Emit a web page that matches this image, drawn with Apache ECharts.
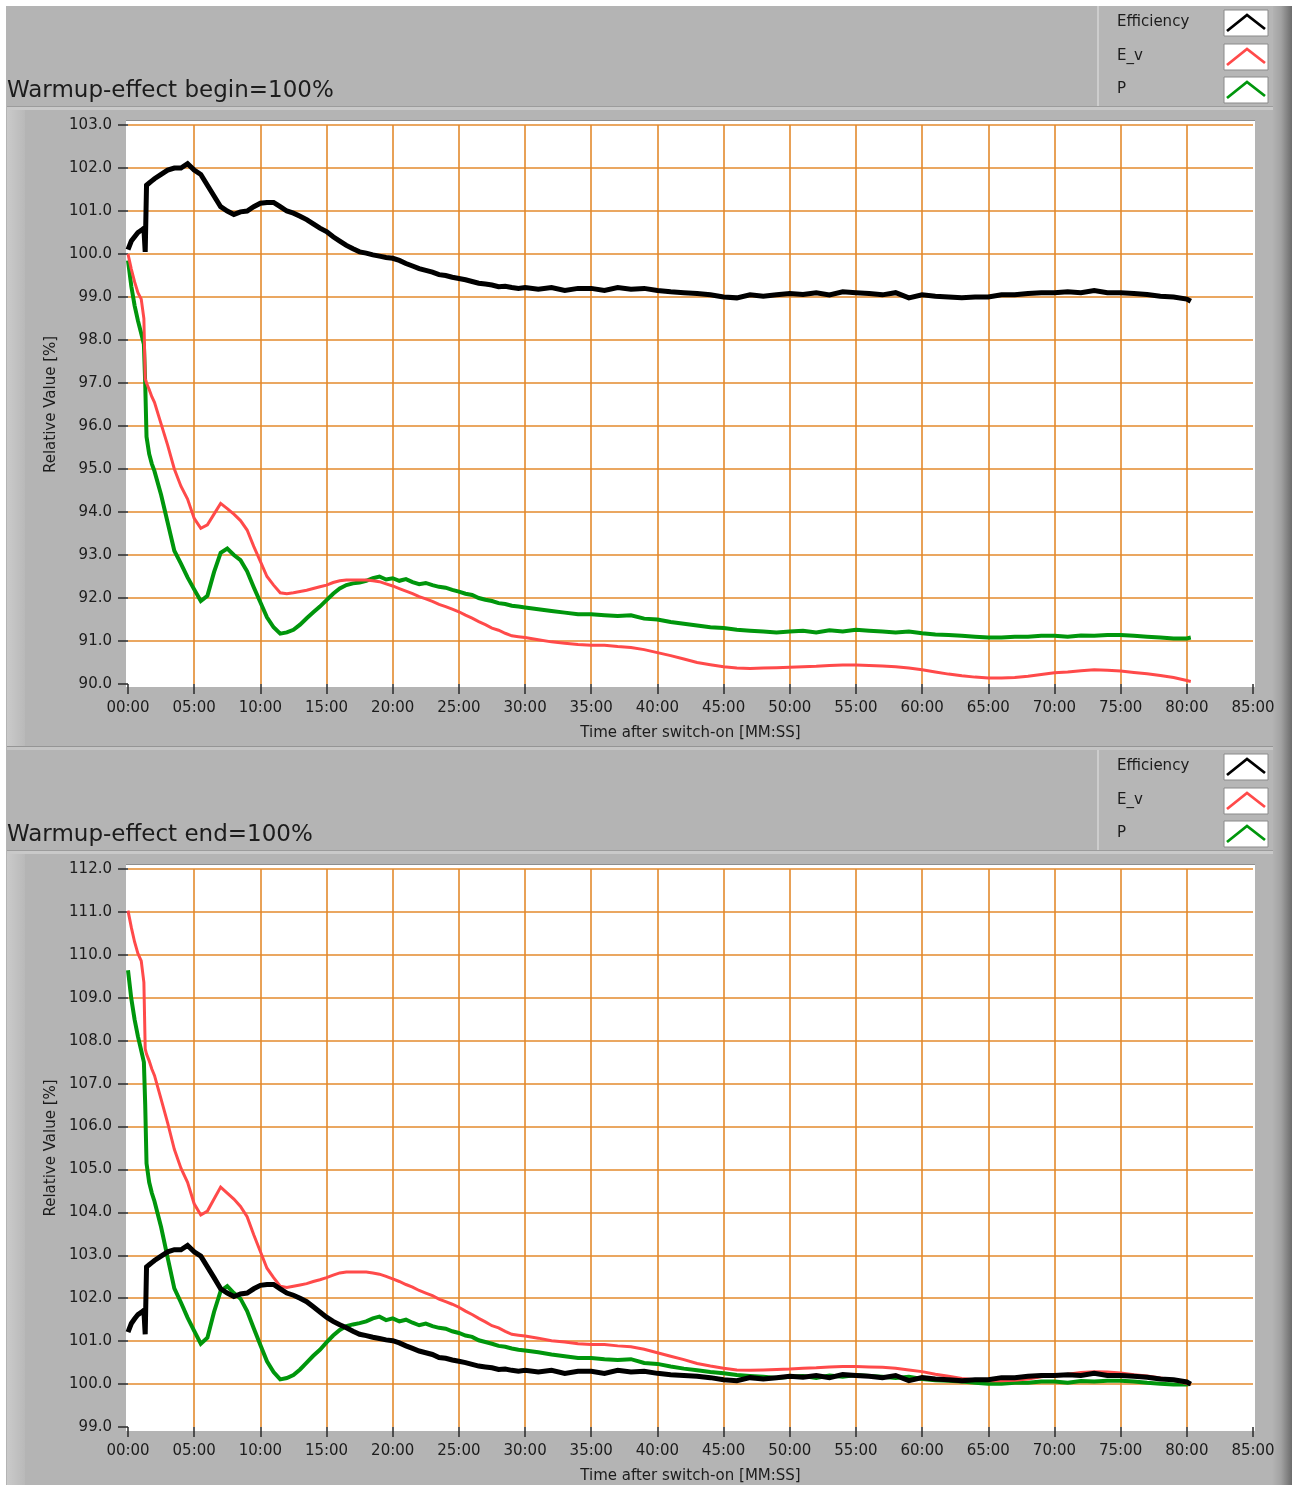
<!DOCTYPE html>
<html>
<head>
<meta charset="utf-8">
<script src="https://cdn.jsdelivr.net/npm/echarts@6/dist/echarts.min.js"></script>
<style>
html,body{margin:0;padding:0;background:#b4b4b4;}
#chart{width:1292px;height:1485px;}
</style>
</head>
<body>
<div id="chart"></div>
<script>
// ---------- DATA ----------
const seriesNames = ['Efficiency', 'E_v', 'P'];
const titles = ['Warmup-effect begin=100%', 'Warmup-effect end=100%'];
const xAxisName = 'Time after switch-on [MM:SS]';
const yAxisName = 'Relative Value [%]';

// time after switch-on, minutes
const times = [0,0.25,0.5,0.75,1,1.2,1.3,1.4,1.6,1.8,2,
  2.5,3,3.5,4,4.5,5,5.5,6,6.5,7,
  7.5,8,8.5,9,9.5,10,10.5,11,11.5,12,
  12.5,13,13.5,14,14.5,15,15.5,16,16.5,17,
  17.5,18,18.5,19,19.5,20,20.5,21,21.5,22,
  22.5,23,23.5,24,24.5,25,25.5,26,26.5,27,
  27.5,28,28.5,29,29.5,30,
  31,32,33,34,35,36,37,38,39,40,
  41,42,43,44,45,46,47,48,49,50,
  51,52,53,54,55,56,57,58,59,60,
  61,62,63,64,65,66,67,68,69,70,
  71,72,73,74,75,76,77,78,79,80,
  80.3];

// Top panel (begin = 100%)
const topEfficiency = [100.1,100.3,100.4,100.5,100.55,100.6,100.05,101.6,101.65,101.7,101.75,
  101.85,101.95,102.0,102.0,102.1,101.95,101.85,101.6,101.35,101.1,
  101.0,100.92,100.98,101.0,101.1,101.18,101.2,101.2,101.1,101.0,
  100.95,100.88,100.8,100.7,100.6,100.52,100.4,100.3,100.2,100.12,
  100.05,100.02,99.98,99.95,99.92,99.9,99.85,99.78,99.72,99.66,
  99.62,99.58,99.52,99.5,99.46,99.43,99.4,99.36,99.32,99.3,
  99.28,99.24,99.25,99.22,99.2,99.22,
  99.18,99.22,99.15,99.2,99.2,99.15,99.22,99.18,99.2,99.15,
  99.12,99.1,99.08,99.05,99.0,98.98,99.05,99.02,99.05,99.08,
  99.06,99.1,99.05,99.12,99.1,99.08,99.05,99.1,98.98,99.05,
  99.02,99.0,98.98,99.0,99.0,99.05,99.05,99.08,99.1,99.1,
  99.12,99.1,99.15,99.1,99.1,99.08,99.06,99.02,99.0,98.95,
  98.9];
const topEv = [100.0,99.65,99.35,99.1,98.95,98.5,97.1,97.0,96.85,96.68,96.55,
  96.05,95.55,95.0,94.6,94.3,93.85,93.62,93.7,93.95,94.2,
  94.08,93.95,93.8,93.58,93.2,92.85,92.5,92.3,92.12,92.1,
  92.12,92.15,92.18,92.22,92.26,92.3,92.36,92.4,92.42,92.42,
  92.42,92.42,92.4,92.38,92.33,92.28,92.22,92.16,92.1,92.03,
  91.98,91.92,91.85,91.8,91.74,91.68,91.6,91.53,91.45,91.38,
  91.3,91.25,91.18,91.12,91.1,91.08,
  91.03,90.98,90.95,90.92,90.9,90.9,90.87,90.85,90.8,90.73,
  90.66,90.58,90.5,90.45,90.4,90.37,90.36,90.37,90.38,90.39,
  90.4,90.41,90.43,90.44,90.44,90.43,90.42,90.4,90.37,90.33,
  90.28,90.23,90.19,90.16,90.14,90.14,90.15,90.18,90.22,90.26,
  90.28,90.31,90.33,90.32,90.3,90.27,90.24,90.2,90.15,90.08,
  90.06];
const topP = [99.85,99.25,98.8,98.45,98.15,97.9,97.0,95.75,95.35,95.12,94.95,
  94.4,93.75,93.1,92.8,92.48,92.2,91.93,92.05,92.6,93.05,
  93.15,93.0,92.88,92.62,92.25,91.9,91.55,91.32,91.17,91.2,
  91.26,91.38,91.53,91.67,91.8,91.95,92.1,92.22,92.3,92.34,
  92.36,92.4,92.46,92.5,92.43,92.46,92.4,92.44,92.37,92.32,
  92.35,92.3,92.26,92.24,92.19,92.15,92.1,92.07,92.0,91.96,
  91.93,91.88,91.86,91.82,91.8,91.78,
  91.74,91.7,91.66,91.62,91.62,91.6,91.58,91.6,91.52,91.5,
  91.44,91.4,91.36,91.32,91.3,91.26,91.24,91.22,91.2,91.22,
  91.24,91.2,91.25,91.22,91.26,91.24,91.22,91.2,91.22,91.18,
  91.15,91.14,91.12,91.1,91.08,91.08,91.1,91.1,91.12,91.12,
  91.1,91.13,91.12,91.14,91.14,91.12,91.1,91.08,91.06,91.06,
  91.08];

// Bottom panel (end = 100%)
const botEfficiency = [101.21,101.41,101.52,101.62,101.67,101.72,101.16,102.73,102.78,102.83,102.88,
  102.98,103.08,103.13,103.13,103.23,103.08,102.98,102.73,102.48,102.22,
  102.12,102.04,102.1,102.12,102.22,102.3,102.32,102.32,102.22,102.12,
  102.07,102.0,101.92,101.8,101.68,101.56,101.46,101.38,101.31,101.23,
  101.16,101.13,101.09,101.06,101.03,101.01,100.96,100.89,100.83,100.77,
  100.73,100.69,100.62,100.6,100.56,100.53,100.5,100.46,100.42,100.4,
  100.38,100.34,100.35,100.32,100.3,100.32,
  100.28,100.32,100.25,100.3,100.3,100.25,100.32,100.28,100.3,100.25,
  100.22,100.2,100.18,100.15,100.1,100.08,100.15,100.12,100.15,100.18,
  100.16,100.2,100.15,100.22,100.2,100.18,100.15,100.2,100.08,100.15,
  100.12,100.1,100.08,100.1,100.1,100.15,100.15,100.18,100.2,100.2,
  100.22,100.2,100.25,100.2,100.2,100.18,100.16,100.12,100.1,100.05,
  100.0];
const botEv = [111.03,110.64,110.3,110.03,109.86,109.36,107.81,107.69,107.53,107.34,107.19,
  106.64,106.08,105.47,105.03,104.7,104.2,103.94,104.03,104.31,104.59,
  104.45,104.31,104.14,103.9,103.48,103.09,102.7,102.48,102.28,102.25,
  102.28,102.31,102.34,102.39,102.43,102.48,102.54,102.59,102.61,102.61,
  102.61,102.61,102.59,102.56,102.51,102.45,102.39,102.32,102.26,102.18,
  102.12,102.06,101.98,101.92,101.86,101.79,101.7,101.62,101.53,101.45,
  101.36,101.31,101.23,101.16,101.14,101.12,
  101.07,101.01,100.98,100.94,100.92,100.92,100.89,100.87,100.81,100.73,
  100.65,100.57,100.48,100.42,100.37,100.33,100.32,100.33,100.34,100.35,
  100.37,100.38,100.4,100.41,100.41,100.4,100.39,100.37,100.33,100.29,
  100.23,100.18,100.13,100.1,100.08,100.08,100.09,100.12,100.17,100.21,
  100.23,100.27,100.29,100.28,100.26,100.22,100.19,100.14,100.09,100.01,
  99.99];
const botP = [109.64,108.98,108.49,108.1,107.77,107.5,106.51,105.14,104.7,104.45,104.26,
  103.66,102.94,102.23,101.9,101.55,101.24,100.94,101.08,101.68,102.17,
  102.28,102.12,101.99,101.7,101.3,100.91,100.53,100.28,100.11,100.14,
  100.21,100.34,100.5,100.66,100.8,100.97,101.13,101.26,101.35,101.39,
  101.42,101.46,101.53,101.57,101.49,101.53,101.46,101.5,101.43,101.37,
  101.41,101.35,101.31,101.29,101.23,101.19,101.13,101.1,101.02,100.98,
  100.94,100.89,100.87,100.83,100.8,100.78,
  100.74,100.69,100.65,100.61,100.61,100.58,100.56,100.58,100.49,100.47,
  100.41,100.36,100.32,100.28,100.25,100.21,100.19,100.17,100.14,100.17,
  100.19,100.14,100.2,100.17,100.21,100.19,100.17,100.14,100.17,100.12,
  100.09,100.08,100.06,100.03,100.01,100.01,100.03,100.03,100.06,100.06,
  100.03,100.07,100.06,100.08,100.08,100.06,100.03,100.01,99.99,99.99,
  100.01];

// axis ranges / ticks
const xRange = {min: 0, max: 85, step: 5};
const yRangeTop = {min: 90, max: 103, step: 1};
const yRangeBot = {min: 99, max: 112, step: 1};

// ---------- STYLE ----------
const FONT = 'DejaVu Sans';
const TXT = '#1c1c1c';
const GRIDC = '#e38a2d';
const colors = {Efficiency: '#000000', E_v: '#ff4a4a', P: '#00960c'};
const widths = {Efficiency: 5, E_v: 3, P: 4};

const panelOffset = 744;
const plotLeft = 128, plotWidth = 1125, plotTop = 125, plotHeight = 559;

function pairs(vals) { return times.map((t, i) => [t, vals[i]]); }
function mmss(v) { return (v < 10 ? '0' : '') + v + ':00'; }

const chart = echarts.init(document.getElementById('chart'), null, {renderer: 'canvas'});

const grids = [0, 1].map(i => ({
  left: plotLeft, top: plotTop + i * panelOffset, width: plotWidth, height: plotHeight,
  show: false, containLabel: false
}));

const xAxes = [0, 1].map(i => ({
  type: 'value', gridIndex: i, min: xRange.min, max: xRange.max, interval: xRange.step,
  axisLine: {show: false},
  axisTick: {show: true, length: 10, lineStyle: {color: '#2a2a2a', width: 1.5}},
  axisLabel: {formatter: mmss, fontSize: 15, fontFamily: FONT, color: TXT, margin: 17, showMaxLabel: true, showMinLabel: true},
  splitLine: {show: true, showMinLine: false, showMaxLine: false, lineStyle: {color: GRIDC, width: 1.6}},
  name: xAxisName, nameLocation: 'middle', nameGap: 42,
  nameTextStyle: {fontSize: 15, fontFamily: FONT, color: TXT}
}));

const yAxes = [yRangeTop, yRangeBot].map((r, i) => ({
  type: 'value', gridIndex: i, min: r.min, max: r.max, interval: r.step,
  axisLine: {show: false},
  axisTick: {show: true, length: 10, lineStyle: {color: '#2a2a2a', width: 1.5}},
  axisLabel: {formatter: v => v.toFixed(1), fontSize: 15, fontFamily: FONT, color: TXT, margin: 16, showMaxLabel: true, showMinLabel: true},
  splitLine: {show: true, showMinLine: false, showMaxLine: true, lineStyle: {color: GRIDC, width: 1.6}},
  name: yAxisName, nameLocation: 'middle', nameGap: 63, nameRotate: 90,
  nameTextStyle: {fontSize: 15, fontFamily: FONT, color: TXT}
}));

const panelData = [
  {Efficiency: topEfficiency, E_v: topEv, P: topP},
  {Efficiency: botEfficiency, E_v: botEv, P: botP}
];
const drawOrder = ['P', 'E_v', 'Efficiency'];
const series = [];
panelData.forEach((pd, i) => {
  drawOrder.forEach((name, k) => {
    series.push({
      name: name, type: 'line', xAxisIndex: i, yAxisIndex: i,
      data: pairs(pd[name]), showSymbol: false, symbol: 'none',
      lineStyle: {color: colors[name], width: widths[name], join: 'miter'},
      itemStyle: {color: colors[name]},
      z: 3 + k, clip: true, silent: true
    });
  });
});

// ---------- DECOR (frame, titles, legend boxes) ----------
const g = [];
g.push({type: 'rect', z: -20, shape: {x: 0, y: 0, width: 1292, height: 1485}, style: {fill: '#b4b4b4'}});
g.push({type: 'rect', z: -19, shape: {x: 0, y: 0, width: 1292, height: 6}, style: {fill: '#ffffff'}});
g.push({type: 'rect', z: -19, shape: {x: 0, y: 0, width: 6, height: 1485}, style: {fill: '#ffffff'}});
g.push({type: 'rect', z: -18, shape: {x: 1272, y: 6, width: 20, height: 1479},
  style: {fill: new echarts.graphic.LinearGradient(0, 0, 1, 0, [{offset: 0, color: '#b4b4b4'}, {offset: 0.45, color: '#a2a2a2'}, {offset: 1, color: '#6c6c6c'}])}});

[0, 1].forEach(i => {
  const oy = i * panelOffset;
  g.push({type: 'rect', z: -17, shape: {x: 7, y: 106 + oy, width: 1266, height: 1}, style: {fill: '#9c9c9c'}});
  g.push({type: 'rect', z: -17, shape: {x: 7, y: 107 + oy, width: 1266, height: 3}, style: {fill: '#c9c9c9'}});
  g.push({type: 'rect', z: -17, shape: {x: 7, y: 110 + oy, width: 18, height: 636},
    style: {fill: new echarts.graphic.LinearGradient(0, 0, 1, 0, [{offset: 0, color: '#cacaca'}, {offset: 1, color: '#b9b9b9'}])}});
  g.push({type: 'rect', z: -15, shape: {x: 126, y: 121 + oy, width: 1129, height: 566}, style: {fill: '#ffffff'}});
  g.push({type: 'rect', z: -14, shape: {x: 126, y: 120 + oy, width: 1129, height: 1}, style: {fill: '#8e8e8e'}});
  g.push({type: 'rect', z: -16, shape: {x: 1097, y: 6 + oy, width: 176, height: 100}, style: {fill: '#b6b6b6'}});
  g.push({type: 'rect', z: -15, shape: {x: 1097, y: 6 + oy, width: 2, height: 100}, style: {fill: '#cdcdcd'}});
  g.push({type: 'text', z: 10, x: 7, y: 91 + oy,
    style: {text: titles[i], fontSize: 23, fontFamily: FONT, fill: TXT, verticalAlign: 'middle', align: 'left'}});
  const ly = [22, 56, 89];
  const by = [10, 44, 77];
  seriesNames.forEach((name, k) => {
    g.push({type: 'text', z: 10, x: 1117, y: ly[k] + oy,
      style: {text: name, fontSize: 15, fontFamily: FONT, fill: TXT, verticalAlign: 'middle', align: 'left'}});
    const bx = 1224, byy = by[k] + oy;
    g.push({type: 'rect', z: 10, shape: {x: bx, y: byy, width: 44, height: 26}, style: {fill: '#ffffff', stroke: '#8a8a8a', lineWidth: 1}});
    g.push({type: 'polyline', z: 11, shape: {points: [[bx + 3, byy + 21], [bx + 23, byy + 5], [bx + 41, byy + 19]]},
      style: {stroke: colors[name], lineWidth: 2.8, fill: null}});
  });
});
g.push({type: 'rect', z: -16, shape: {x: 7, y: 746, width: 1266, height: 1}, style: {fill: '#959595'}});
g.push({type: 'rect', z: -16, shape: {x: 7, y: 747, width: 1266, height: 3}, style: {fill: '#c4c4c4'}});

chart.setOption({
  animation: false,
  backgroundColor: '#b4b4b4',
  textStyle: {fontFamily: FONT},
  grid: grids,
  xAxis: xAxes,
  yAxis: yAxes,
  series: series,
  graphic: {elements: g}
});
</script>
</body>
</html>
